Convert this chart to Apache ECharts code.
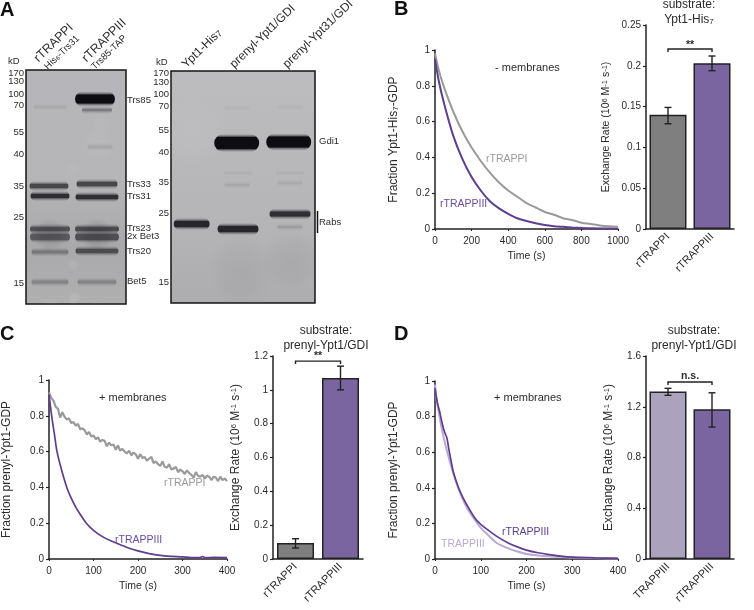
<!DOCTYPE html>
<html><head><meta charset="utf-8">
<style>html,body{margin:0;padding:0;background:#fff}#c{width:754px;height:610px}</style>
<script src="https://cdn.jsdelivr.net/npm/echarts@6/dist/echarts.min.js"></script>
</head><body><div id="c"></div>
<script>
// ---------- Gel A (left): band centre, migration, width, thickness, density
const gel1Center   =[69,71,24,74,23,71,24,71,24,71,24,71,24,71,24,71];
const gel1Migration=[29,40,37,77,116,114,126,127,159,159,167,167,182,181,212,212];
const gel1Width    =[40,30,33,25,39,41,39,43,40,44,40,44,37,43,37,39];
const gel1Thick    =[8,1,.5,2,3,3,3,3,3,3,5,5,2,3,2,2];
const gel1Density  =[1,.35,.08,.1,.66,.66,.8,.8,.58,.62,.52,.58,.32,.6,.26,.26];
// faint smears of the stained gel: centre, migration, width, height, density (negative = paler)
const smear1Center   =[24,71,47,72,75,47,48,24,72];
const smear1Migration=[165,165,195,75,55,100,228,235,240];
const smear1Width    =[54,58,12,40,30,16,14,50,50];
const smear1Height   =[34,34,70,34,18,60,80,20,20];
const smear1Density  =[.16,.18,-.12,-.06,-.06,-.05,-.14,-.06,-.06];
const gel1Ladder   =['170','130','100','70','55','40','35','25','15'];
const gel1LadderPos=[3,11,24,35,62,84,116,147,213];
const gel1Names    =['Trs85','Trs33','Trs31','Trs23','2x Bet3','Trs20','Bet5'];
const gel1NamesPos =[30,114,126,158,166,181,211];
// ---------- Gel A (right)
const gel2Center   =[20.7,65.7,117.7,67,119,119,66,119,67,119,66,119];
const gel2Migration=[153,72,71,158,143,156,114,112,102,102,37,36];
const gel2Width    =[36,45,45,41,41,25,25,25,28,28,25,25];
const gel2Thick    =[5,11,10,5,4,1,1,1,.5,.5,.5,.5];
const gel2Density  =[.85,1,1,.85,.8,.14,.09,.07,.05,.05,.04,.04];
const smear2Center   =[20,120,70];
const smear2Migration=[60,190,200];
const smear2Width    =[70,60,80];
const smear2Height   =[140,60,70];
const smear2Density  =[-.08,.06,.05];
const gel2Ladder   =['170','130','100','70','55','40','35','25','15'];
const gel2LadderPos=[2,11,23,35,59,81,111,142,211];
const gel2Names    =['Gdi1','Rabs'];
const gel2NamesPos =[70,151];
// ---------- B curves
const bTime =[0,20,50,100,150,200,250,300,350,400,450,500,550,600,650,700,750,800,850,900,950,1000];
const bGrey =[.98,.89,.79,.655,.545,.455,.38,.315,.26,.215,.18,.145,.12,.095,.08,.06,.05,.035,.028,.02,.015,.012];
const bPurple=[.95,.83,.70,.52,.39,.29,.215,.155,.115,.085,.06,.045,.032,.022,.016,.012,.008,.005,.004,.003,.003,.002];
// ---------- C curves
const cGreyTime=[0,5,10,15,20,25,30,35,40,45,50,55,60,65,70,75,80,85,90,95,100,105,110,115,120,125,130,135,140,145,150,155,160,165,170,175,180,185,190,195,200,205,210,215,220,225,230,235,240,245,250,255,260,265,270,275,280,285,290,295,300,305,310,315,320,325,330,335,340,345,350,355,360,365,370,375,380,385,390,395,400];
const cGrey=[.93,.90,.885,.85,.84,.79,.82,.795,.78,.785,.76,.765,.745,.755,.725,.73,.72,.695,.71,.685,.69,.67,.68,.655,.665,.66,.63,.65,.635,.64,.61,.635,.605,.615,.60,.59,.605,.58,.595,.585,.56,.585,.565,.57,.55,.56,.57,.535,.545,.53,.52,.545,.515,.51,.53,.50,.505,.515,.485,.50,.49,.475,.495,.48,.47,.455,.485,.465,.46,.47,.45,.465,.46,.44,.46,.455,.435,.46,.44,.45,.435];
const cPurpleTime=[0,6,12,18,28,40,50,60,70,84,100,120,140,160,180,200,225,250,275,300,320,340,345,350,370,400];
const cPurple=[.92,.8,.7,.6,.5,.4,.34,.29,.25,.2,.16,.125,.10,.08,.06,.045,.03,.02,.015,.012,.008,.008,.014,.008,.009,.008];
// ---------- D curves
const dLightTime=[0,5,10,15,20,30,40,50,60,75,90,100,120,135,160,180,200,225,250,275,300,350,400];
const dLight=[.98,.87,.8,.73,.67,.57,.48,.405,.34,.265,.21,.175,.125,.09,.06,.042,.028,.02,.015,.012,.008,.005,.003];
const dDarkTime=[0,5,10,15,20,26,30,33,40,50,60,75,90,100,120,135,160,180,200,225,250,275,300,350,400];
const dDark=[.96,.88,.83,.77,.72,.68,.62,.58,.49,.41,.35,.28,.22,.195,.155,.127,.09,.068,.05,.035,.025,.016,.01,.006,.004];
// ---------- Bars
const bNames=['rTRAPPI','rTRAPPIII'];
const bRates=[.14,.203];  const bLow=[.129,.194];  const bHigh=[.149,.212];
const cNames=['rTRAPPI','rTRAPPIII'];
const cRates=[.095,1.07]; const cLow=[.065,1.0];   const cHigh=[.12,1.14];
const dNames=['TRAPPIII','rTRAPPIII'];
const dRates=[1.32,1.18]; const dLow=[1.29,1.04];  const dHigh=[1.345,1.31];

const FONT='"Liberation Sans",Arial,sans-serif';
const INK='#222';
const TXT='#2b2b2b';
const GREY='#9a9a9a', PURPLE='#5f3e90', LIGHT='#b9a9d4';
const BGREY='#7f7f7f', BPURPLE='#7b65a0', BLIGHT='#aba3bd';
const zip=(a,b)=>a.map((v,i)=>[v,b[i]]);
const rich={sub:{fontSize:8,verticalAlign:'bottom',fontFamily:FONT,color:TXT},sup:{fontSize:7.5,verticalAlign:'top',fontFamily:FONT,color:TXT}};
const vfmt=v=>String(v);

const grids=[
 {left:26,top:70,width:100,height:234,show:true,borderColor:'#151515',borderWidth:1.5,
  backgroundColor:{type:'linear',x:0,y:0,x2:0,y2:1,colorStops:[{offset:0,color:'#b6b6ba'},{offset:.45,color:'#b6b6b8'},{offset:.75,color:'#a9a9ac'},{offset:1,color:'#b0b0b0'}]}},
 {left:171,top:71,width:144,height:232,show:true,borderColor:'#151515',borderWidth:1.5,
  backgroundColor:{type:'linear',x:0,y:0,x2:0,y2:1,colorStops:[{offset:0,color:'#bcbcbf'},{offset:.6,color:'#b6b6b9'},{offset:1,color:'#adadb0'}]}},
 {left:435,top:50,width:183,height:179},
 {left:646,top:25,width:88,height:204},
 {left:41,top:380,width:186,height:179},
 {left:273,top:356,width:90,height:203},
 {left:435,top:381,width:183,height:178},
 {left:646,top:356,width:88,height:203}
];
const hiddenX=(i,max)=>({gridIndex:i,type:'value',min:0,max,show:false});
const hiddenY=(i,max)=>({gridIndex:i,type:'value',min:0,max,inverse:true,show:false});
const lineX=(i,max,iv)=>({gridIndex:i,type:'value',min:0,max,interval:iv,name:'Time (s)',nameLocation:'middle',nameGap:22,
  nameTextStyle:{fontFamily:FONT,fontSize:10.5,color:TXT},
  axisLine:{lineStyle:{color:INK,width:1.5}},axisTick:{length:2,lineStyle:{color:INK}},splitLine:{show:false},
  axisLabel:{fontFamily:FONT,fontSize:10,color:TXT,margin:7,formatter:vfmt,hideOverlap:false}});
const lineY=(i,name,gap)=>({gridIndex:i,type:'value',min:0,max:1,interval:.2,name,nameLocation:'middle',nameGap:gap,
  nameTextStyle:{fontFamily:FONT,fontSize:12,color:TXT,rich},
  axisLine:{show:true,lineStyle:{color:INK,width:1.5}},axisTick:{show:true,length:3,lineStyle:{color:INK,width:1.2}},splitLine:{show:false},
  axisLabel:{fontFamily:FONT,fontSize:10,color:TXT,margin:5,formatter:vfmt}});
const barX=(i,names)=>({gridIndex:i,type:'category',data:names,axisLine:{lineStyle:{color:INK,width:1.5}},axisTick:{show:false},
  axisLabel:{fontFamily:FONT,fontSize:11,color:TXT,rotate:45,margin:6,interval:0}});
const barY=(i,max,iv,gap,fs)=>({gridIndex:i,type:'value',min:0,max,interval:iv,
  name:'Exchange Rate (10{sup|6} M{sup|-1} s{sup|-1})',nameLocation:'middle',nameGap:gap,
  nameTextStyle:{fontFamily:FONT,fontSize:fs,color:TXT,rich},
  axisLine:{show:true,lineStyle:{color:INK,width:1.5}},axisTick:{show:true,length:3,lineStyle:{color:INK,width:1.2}},splitLine:{show:false},
  axisLabel:{fontFamily:FONT,fontSize:10,color:TXT,margin:5,formatter:vfmt}});

const xAxis=[hiddenX(0,100),hiddenX(1,144),lineX(2,1000,200),barX(3,bNames),lineX(4,400,100),barX(5,cNames),lineX(6,400,100),barX(7,dNames)];
const yAxis=[hiddenY(0,234),hiddenY(1,232),
  lineY(2,'Fraction Ypt1-His{sub|7}-GDP',35),barY(3,.25,.05,34,10.5),
  lineY(4,'Fraction prenyl-Ypt1-GDP',36),barY(5,1.2,.2,31,12),
  lineY(6,'Fraction prenyl-Ypt1-GDP',35),barY(7,1.6,.4,31,12)];

function bandSeries(g,xs,ys,ws,hs,ds){
  return {type:'custom',xAxisIndex:g,yAxisIndex:g,silent:true,z:3,clip:false,
    data:xs.map((x,i)=>[x,ys[i],ws[i],hs[i],ds[i]]),
    renderItem(p,api){
      const c=api.coord([api.value(0),api.value(1)]);
      const w=api.size([api.value(2),0])[0], h=api.value(3), d=api.value(4);
      const H=h+7, t=3.5/H;
      const ink=a=>`rgba(14,14,18,${a})`;
      return {type:'rect',shape:{x:c[0]-w/2,y:c[1]-H/2,width:w,height:H,r:H/2},
        style:{fill:{type:'linear',x:0,y:0,x2:0,y2:1,colorStops:[
          {offset:0,color:ink(0)},{offset:t*.6,color:ink(d*.4)},{offset:t,color:ink(d)},
          {offset:1-t,color:ink(d)},{offset:1-t*.6,color:ink(d*.4)},{offset:1,color:ink(0)}]}}};
    }};
}
function smearSeries(g,xs,ys,ws,hs,ds){
  return {type:'custom',xAxisIndex:g,yAxisIndex:g,silent:true,z:2,clip:true,
    data:xs.map((x,i)=>[x,ys[i],ws[i],hs[i],ds[i]]),
    renderItem(p,api){
      const c=api.coord([api.value(0),api.value(1)]);
      const w=api.size([api.value(2),0])[0], h=api.size([0,api.value(3)])[1], d=api.value(4);
      const rgb=d>0?'40,40,45':'235,235,235', a=Math.abs(d);
      return {type:'ellipse',shape:{cx:c[0],cy:c[1],rx:w/2,ry:h/2},style:{fill:{type:'radial',x:.5,y:.5,r:.5,colorStops:[
        {offset:0,color:`rgba(${rgb},${a})`},{offset:.6,color:`rgba(${rgb},${a*.6})`},{offset:1,color:`rgba(${rgb},0)`}]}}};
    }};
}
function ladderSeries(g,names,pos,side,offset){
  return {type:'custom',xAxisIndex:g,yAxisIndex:g,silent:true,z:4,clip:false,
    data:pos.map(v=>[side==='left'?0:(g===0?100:144),v]),
    renderItem(p,api){
      const c=api.coord([api.value(0),api.value(1)]);
      return {type:'text',x:c[0]+offset,y:c[1],style:{text:names[p.dataIndex],fill:TXT,fontFamily:FONT,fontSize:9.5,
        align:side==='left'?'right':'left',verticalAlign:'middle'}};
    }};
}
function lineSeries(g,data,color,w,smooth){
  return {type:'line',xAxisIndex:g,yAxisIndex:g,data,showSymbol:false,smooth:smooth||false,clip:false,silent:true,z:3,
    lineStyle:{color,width:w}};
}
function barSeries(g,vals,colors){
  return {type:'bar',xAxisIndex:g,yAxisIndex:g,barWidth:37,silent:true,
    data:vals.map((v,i)=>({value:v,itemStyle:{color:colors[i],borderColor:INK,borderWidth:1.5}}))};
}
function errSeries(g,lo,hi){
  return {type:'custom',xAxisIndex:g,yAxisIndex:g,silent:true,z:5,clip:false,
    data:lo.map((v,i)=>[i,v,hi[i]]),
    renderItem(p,api){
      const a=api.coord([api.value(0),api.value(1)]), b=api.coord([api.value(0),api.value(2)]);
      const st={stroke:INK,lineWidth:1.4,fill:'none'};
      return {type:'group',children:[
        {type:'line',shape:{x1:a[0],y1:a[1],x2:b[0],y2:b[1]},style:st},
        {type:'line',shape:{x1:a[0]-3.5,y1:a[1],x2:a[0]+3.5,y2:a[1]},style:st},
        {type:'line',shape:{x1:b[0]-3.5,y1:b[1],x2:b[0]+3.5,y2:b[1]},style:st}]};
    }};
}
function bracketSeries(g,level,mark,up){
  return {type:'custom',xAxisIndex:g,yAxisIndex:g,silent:true,z:5,clip:false,
    data:[[0,1,level]],
    renderItem(p,api){
      const a=api.coord([api.value(0),api.value(2)]), b=api.coord([api.value(1),api.value(2)]);
      return {type:'group',children:[
        {type:'polyline',shape:{points:[[a[0],a[1]+3],[a[0],a[1]],[b[0],b[1]],[b[0],b[1]+3]]},style:{stroke:INK,lineWidth:1.4,fill:'none'}},
        {type:'text',x:(a[0]+b[0])/2,y:a[1]-up,style:{text:mark,fill:TXT,fontFamily:FONT,fontSize:10.5,fontWeight:'bold',align:'center',verticalAlign:'middle'}}]};
    }};
}
// vertical bar beside the Rabs bands
const rabsBar={type:'custom',xAxisIndex:1,yAxisIndex:1,silent:true,clip:false,z:5,data:[[146.5,140,162]],
  renderItem(p,api){const a=api.coord([api.value(0),api.value(1)]),b=api.coord([api.value(0),api.value(2)]);
    return {type:'line',shape:{x1:a[0],y1:a[1],x2:b[0],y2:b[1]},style:{stroke:'#111',lineWidth:1.5}};}};

const series=[
 smearSeries(0,smear1Center,smear1Migration,smear1Width,smear1Height,smear1Density),
 bandSeries(0,gel1Center,gel1Migration,gel1Width,gel1Thick,gel1Density),
 ladderSeries(0,gel1Ladder,gel1LadderPos,'left',-2),
 ladderSeries(0,gel1Names,gel1NamesPos,'right',1),
 smearSeries(1,smear2Center,smear2Migration,smear2Width,smear2Height,smear2Density),
 bandSeries(1,gel2Center,gel2Migration,gel2Width,gel2Thick,gel2Density),
 ladderSeries(1,gel2Ladder,gel2LadderPos,'left',-2),
 ladderSeries(1,gel2Names,gel2NamesPos,'right',4),
 rabsBar,
 lineSeries(2,zip(bTime,bGrey),GREY,2,.3),
 lineSeries(2,zip(bTime,bPurple),PURPLE,2,.3),
 barSeries(3,bRates,[BGREY,BPURPLE]),errSeries(3,bLow,bHigh),bracketSeries(3,.2206,'**',4),
 lineSeries(4,zip(cGreyTime,cGrey),GREY,2.2),
 lineSeries(4,zip(cPurpleTime,cPurple),PURPLE,1.7,.3),
 barSeries(5,cRates,[BGREY,BPURPLE]),errSeries(5,cLow,cHigh),bracketSeries(5,1.17,'**',5),
 lineSeries(6,zip(dLightTime,dLight),LIGHT,2,.3),
 lineSeries(6,zip(dDarkTime,dDark),PURPLE,1.7,.25),
 barSeries(7,dRates,[BLIGHT,BPURPLE]),errSeries(7,dLow,dHigh),bracketSeries(7,1.395,'n.s.',6)
];

function T(text,x,y,o={}){
  return {type:'text',x,y,silent:true,z:10,style:Object.assign({text,fill:TXT,fontFamily:FONT,fontSize:10.5,align:'left',verticalAlign:'middle'},o)};
}
function R(text,x,y,size){ // rotated lane label, anchored at the start of its centre line
  return {type:'text',x,y,rotation:44*Math.PI/180,silent:true,z:10,
    style:{text,fill:TXT,fontFamily:FONT,fontSize:size,align:'left',verticalAlign:'middle',
      rich:{s:{fontSize:size-3,verticalAlign:'bottom',fontFamily:FONT,fill:TXT}}}};
}
const PL={fontFamily:FONT,fontSize:20,fontWeight:'bold',fill:'#111'};
const graphic=[
 T('A',0,10,PL),T('B',394,9,PL),T('C',0,334,PL),T('D',394,334,PL),
 T('kD',8,61,{fontSize:9.5}),T('kD',156,62,{fontSize:9.5}),
 R('rTRAPPI',36,60,12.5),R('His{s|6}-Trs31',46,68,9.5),
 R('rTRAPPIII',84,60,12.5),R('Trs85-TAP',93,68,9.5),
 R('Ypt1-His{s|7}',184,66,12),R('prenyl-Ypt1/GDI',232,66,12),R('prenyl-Ypt31/GDI',285,66,12),
 T('substrate:',689,5,{fontSize:12,align:'center'}),
 {type:'text',x:689,y:20,silent:true,z:10,style:{text:'Ypt1-His{s|7}',fill:TXT,fontFamily:FONT,fontSize:12,align:'center',verticalAlign:'middle',rich:{s:{fontSize:8,verticalAlign:'bottom',fontFamily:FONT,fill:TXT}}}},
 T('- membranes',495,68,{fontSize:11}),
 T('rTRAPPI',486,159,{fill:GREY}),T('rTRAPPIII',440,204,{fill:'#6a4ea0'}),
 T('substrate:',326,331,{fontSize:12,align:'center'}),T('prenyl-Ypt1/GDI',326,346,{fontSize:12,align:'center'}),
 T('+ membranes',99,398,{fontSize:11}),
 T('rTRAPPI',164,483,{fill:GREY}),T('rTRAPPIII',115,540,{fill:'#6a4ea0'}),
 T('substrate:',694,331,{fontSize:12,align:'center'}),T('prenyl-Ypt1/GDI',694,346,{fontSize:12,align:'center'}),
 T('+ membranes',494,398,{fontSize:11}),
 T('rTRAPPIII',502,532,{fill:'#5a3f8e'}),T('TRAPPIII',441,544,{fill:LIGHT})
];

const chart=echarts.init(document.getElementById('c'),null,{renderer:'canvas'});
chart.setOption({animation:false,backgroundColor:'#fff',textStyle:{fontFamily:FONT},grid:grids,xAxis,yAxis,series,graphic});
</script></body></html>
